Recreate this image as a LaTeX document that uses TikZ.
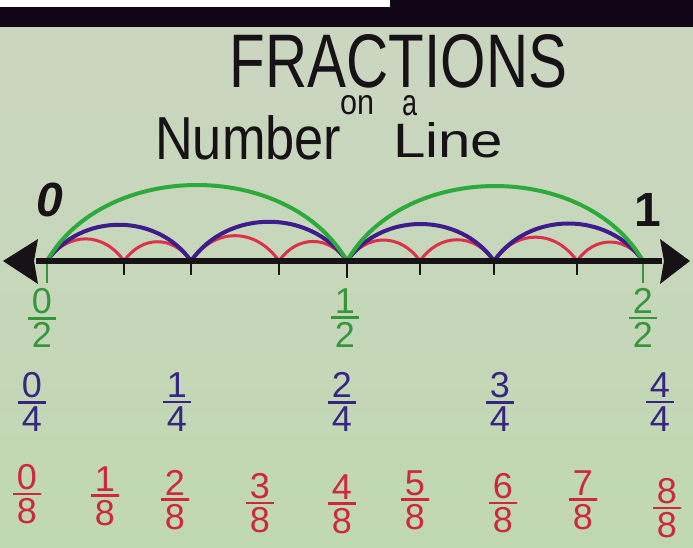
\documentclass[tikz,border=0pt]{standalone}
\usepackage{fontspec}
\setmainfont{Liberation Sans}
\usepackage{graphicx}
\definecolor{bgtop}{RGB}{204,214,194}
\definecolor{bgbot}{RGB}{192,216,178}
\definecolor{topbar}{RGB}{18,6,22}
\definecolor{ink}{RGB}{22,18,22}
\definecolor{gtext}{RGB}{55,150,60}
\definecolor{garc}{RGB}{45,170,60}
\definecolor{btext}{RGB}{55,38,130}
\definecolor{barc}{RGB}{62,28,140}
\definecolor{rtext}{RGB}{205,40,62}
\definecolor{rarc}{RGB}{222,48,72}
\newcommand{\frc}[2]{\vbox{\offinterlineskip\halign{\hfil##\hfil\cr #1\cr\noalign{\kern3pt}\rule{28pt}{2.8pt}\cr\noalign{\kern3pt}#2\cr}}}
\tikzset{
  titletext/.style={inner sep=0pt, text=ink},
  fracnode/.style={inner sep=0pt, font=\fontsize{36}{36}\selectfont},
  gfrac/.style={fracnode, text=gtext},
  bfrac/.style={fracnode, text=btext},
  rfrac/.style={fracnode, text=rtext},
  endlabel/.style={inner sep=0pt, text=ink, font=\fontsize{48}{48}\selectfont\bfseries},
  greenarc/.style={draw=garc, line width=4pt, out=60, in=120},
  bluearc/.style={draw=barc, line width=4pt, out=55, in=125, looseness=1.05},
  redarc/.style={draw=rarc, line width=3pt, out=55, in=125, looseness=1.2},
  minortick/.style={draw=ink, line width=2.5pt},
  majortick/.style={draw=gtext, line width=2.5pt}
}
\begin{document}
\begin{tikzpicture}[x=1pt,y=1pt]
\useasboundingbox (0,0) rectangle (693,-548);
% background
\shade[top color=bgtop, bottom color=bgbot] (0,0) rectangle (693,-548);
\fill[white] (0,0) rectangle (390,-7);
\fill[topbar] (390,0) rectangle (693,-7);
\fill[topbar] (0,-7) rectangle (693,-27);

% title
\node[titletext] (t1) at (398.5,-61) {\resizebox{337pt}{53pt}{FRACTIONS}};
\node[titletext, anchor=south west] (t2) at (340,-115) {\resizebox{34pt}{19pt}{on}};
\node[titletext, anchor=south west] (t3) at (402,-116) {\resizebox{15pt}{20pt}{a}};
\node[titletext, anchor=south west] (t4) at (155,-160) {\resizebox{186pt}{44pt}{Number}};
\node[titletext, anchor=south west] (t5) at (393,-158) {\resizebox{110pt}{35pt}{Line}};

% tick coordinates
\coordinate (p0) at (47,-261);
\coordinate (p1) at (124,-261);
\coordinate (p2) at (191,-261);
\coordinate (p3) at (279,-261);
\coordinate (p4) at (347,-261);
\coordinate (p5) at (420,-261);
\coordinate (p6) at (494,-261);
\coordinate (p7) at (577,-261);
\coordinate (p8) at (643,-261);

% eighths arcs
\foreach \a/\b in {p0/p1,p1/p2,p2/p3,p3/p4,p4/p5,p5/p6,p6/p7,p7/p8}
  \draw[redarc] (\a) to (\b);
% quarter arcs
\foreach \a/\b in {p0/p2,p2/p4,p4/p6,p6/p8}
  \draw[bluearc] (\a) to (\b);
% half arcs
\draw[greenarc] (p0) to (p4);
\draw[greenarc] (p4) to (p8);

% ticks
\foreach \p in {p1,p2,p3,p5,p6,p7}
  \draw[minortick] (\p) -- ++(0,-14);
\foreach \p in {p0,p8}
  \draw[majortick] (\p) -- ++(0,-22);
\draw[minortick] (p4) -- ++(0,-17);

% number line with arrows
\coordinate (la) at (36,-261);
\coordinate (ra) at (662,-261);
\draw[ink, line width=6pt] (la) -- (ra);
\fill[ink] (3,-261) -- (38,-239) -- (34,-261) -- (38,-284) -- cycle;
\fill[ink] (690,-261) -- (660,-239) -- (664,-261) -- (660,-284) -- cycle;

% end labels
\node[endlabel] (zero) at (50,-200) {\itshape 0};
\node[endlabel] (one) at (648,-210) {1};

% halves
\node[gfrac] (h0) at (42,-318) {\frc{0}{2}};
\node[gfrac] (h1) at (345,-318) {\frc{1}{2}};
\node[gfrac] (h2) at (643,-318) {\frc{2}{2}};

% quarters
\node[bfrac] (q0) at (32,-402) {\frc{0}{4}};
\node[bfrac] (q1) at (177,-402) {\frc{1}{4}};
\node[bfrac] (q2) at (342,-402) {\frc{2}{4}};
\node[bfrac] (q3) at (500,-402) {\frc{3}{4}};
\node[bfrac] (q4) at (660,-402) {\frc{4}{4}};

% eighths
\node[rfrac] (e0) at (27,-494) {\frc{0}{8}};
\node[rfrac] (e1) at (105,-496) {\frc{1}{8}};
\node[rfrac] (e2) at (175,-500) {\frc{2}{8}};
\node[rfrac] (e3) at (260,-503) {\frc{3}{8}};
\node[rfrac] (e4) at (342,-504) {\frc{4}{8}};
\node[rfrac] (e5) at (415,-500) {\frc{5}{8}};
\node[rfrac] (e6) at (503,-503) {\frc{6}{8}};
\node[rfrac] (e7) at (583,-500) {\frc{7}{8}};
\node[rfrac] (e8) at (667,-508) {\frc{8}{8}};
\end{tikzpicture}
\end{document}
